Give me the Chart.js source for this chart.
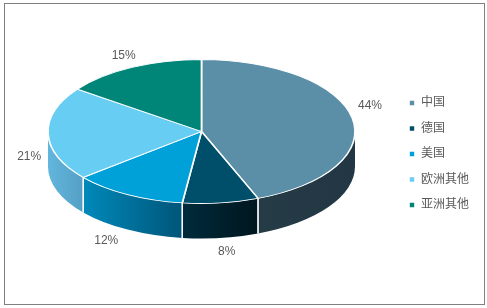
<!DOCTYPE html>
<html>
<head>
<meta charset="utf-8">
<script src="https://cdn.jsdelivr.net/npm/chart.js@4.4.0/dist/chart.umd.min.js"></script>
<style>
  html, body { margin: 0; padding: 0; background: #ffffff; }
  #wrap { width: 487px; height: 308px; position: relative; }
</style>
</head>
<body>
<div id="wrap"><canvas id="c" width="487" height="308"></canvas></div>
<script>
// ---- data ----
const categories = ['中国', '德国', '美国', '欧洲其他', '亚洲其他'];
const shares = [44, 8, 12, 21, 15];
const percentLabels = ['44%', '8%', '12%', '21%', '15%'];

// ---- styles ----
const topColors  = ['#5b8fa7', '#004f6a', '#00a0d8', '#68cdf3', '#008579'];
const wallLeft   = ['#253b46', '#002b3b', '#0089ba', '#62b6de', '#006a60'];
const wallRight  = ['#223743', '#00161f', '#005579', '#559fc4', '#005a52'];

const FONT = '"Liberation Sans", "Noto Sans CJK SC", Arial, sans-serif';
const geom = { ex: 201.5, ey: 131.5, rx: 153.5, ry: 72, depth: 35 };

const pie3d = {
  id: 'pie3d',
  beforeDraw(chart) {
    const ctx = chart.ctx;
    ctx.save();
    ctx.strokeStyle = '#808080';
    ctx.lineWidth = 1;
    ctx.strokeRect(4.5, 3.5, 480, 301);
    ctx.restore();
  },
  beforeDatasetsDraw(chart) {
    const ctx = chart.ctx;
    const meta = chart.getDatasetMeta(0);
    const { ex, ey, rx, ry, depth } = geom;
    const walls = [];
    meta.data.forEach((arc, i) => {
      const a1 = Math.max(arc.startAngle, 0);
      const a2 = Math.min(arc.endAngle, Math.PI);
      if (a2 <= a1) return;
      walls.push({ i, a1, a2 });
    });
    ctx.save();
    walls.forEach(({ i, a1, a2 }) => {
      const x1 = ex + rx * Math.cos(a1), x2 = ex + rx * Math.cos(a2);
      const g = ctx.createLinearGradient(Math.min(x1, x2), 0, Math.max(x1, x2), 0);
      g.addColorStop(0, wallLeft[i]);
      g.addColorStop(1, wallRight[i]);
      ctx.beginPath();
      ctx.ellipse(ex, ey, rx, ry, 0, a1, a2, false);
      ctx.lineTo(ex + rx * Math.cos(a2), ey + ry * Math.sin(a2) + depth);
      ctx.ellipse(ex, ey + depth, rx, ry, 0, a2, a1, true);
      ctx.closePath();
      ctx.fillStyle = g;
      ctx.fill();
    });
    // white separators between wall segments
    ctx.strokeStyle = '#ffffff';
    ctx.lineWidth = 1.2;
    walls.forEach(({ a1, a2 }) => {
      [a1, a2].forEach(a => {
        if (a <= 0.001 || a >= Math.PI - 0.001) return;
        const x = ex + rx * Math.cos(a), y = ey + ry * Math.sin(a);
        ctx.beginPath();
        ctx.moveTo(x, y);
        ctx.lineTo(x, y + depth);
        ctx.stroke();
      });
    });
    ctx.restore();

    // project the library's round pie onto the ellipse
    const a0 = meta.data[0];
    const R = a0.outerRadius;
    ctx.save();
    ctx.translate(ex, ey);
    ctx.scale(rx / R, ry / R);
    ctx.translate(-a0.x, -a0.y);
  },
  afterDatasetsDraw(chart) {
    const ctx = chart.ctx;
    ctx.restore();
    const meta = chart.getDatasetMeta(0);
    const { ex, ey, rx, ry, depth } = geom;
    ctx.save();
    ctx.font = '12px ' + FONT;
    ctx.fillStyle = '#595959';
    ctx.textAlign = 'center';
    ctx.textBaseline = 'middle';
    meta.data.forEach((arc, i) => {
      const m = (arc.startAngle + arc.endAngle) / 2;
      const c = Math.cos(m), s = Math.sin(m);
      let x = ex + rx * c + 18 * c;
      let y = ey + ry * s;
      if (s >= 0) {
        y += 22 + 27 * s;
        x += 30 * c * s;
      } else {
        y -= 12;
      }
      ctx.fillText(percentLabels[i], x, y);
    });
    ctx.restore();
  }
};

new Chart(document.getElementById('c'), {
  type: 'pie',
  data: {
    labels: categories,
    datasets: [{
      data: shares,
      backgroundColor: topColors,
      borderColor: '#ffffff',
      borderWidth: 1.6
    }]
  },
  options: {
    responsive: false,
    animation: false,
    events: [],
    layout: { padding: { top: 10, bottom: 10, left: 10, right: 8 } },
    plugins: {
      tooltip: { enabled: false },
      legend: {
        position: 'right',
        labels: {
          boxWidth: 6,
          boxHeight: 6,
          padding: 13.5,
          color: '#595959',
          font: { size: 12, family: FONT }
        }
      }
    }
  },
  plugins: [pie3d]
});
</script>
</body>
</html>
